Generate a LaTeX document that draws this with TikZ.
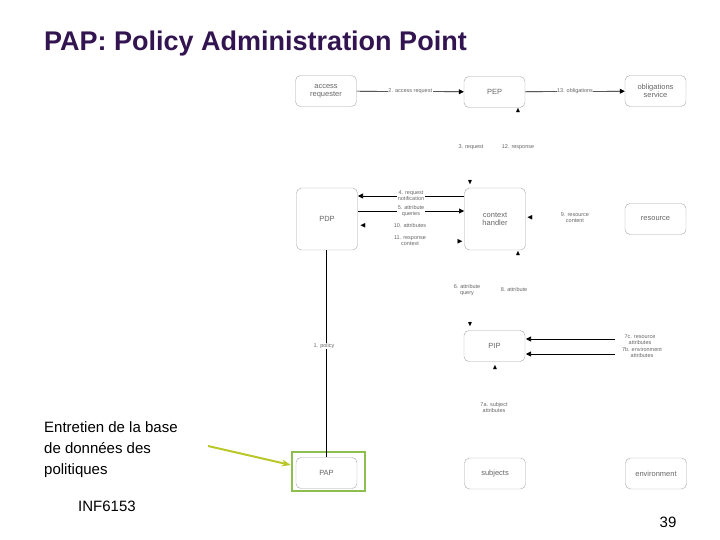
\documentclass[tikz,border=0pt]{standalone}
\usepackage{amssymb}
\usepackage{fontspec}
\setmainfont{Liberation Sans}
\usetikzlibrary{arrows.meta}
\begin{document}
\begin{tikzpicture}[x=1pt,y=-1pt,
 box/.style={draw=gray!70,rounded corners=5pt,minimum width=61pt,minimum height=31pt,font=\fontsize{7.5}{8}\selectfont,text=gray!80!black,align=center,fill=white},
 lb/.style={font=\fontsize{5.5}{6}\selectfont,text=gray!80!black,align=center,fill=white,inner sep=0.5pt},
 ar/.style={-{Triangle[length=5pt,width=5pt]},line width=0.6pt},
 tip/.style={inner sep=0,minimum size=0,font=\fontsize{7}{7}\selectfont}]
\useasboundingbox (0,0) rectangle (720,540);
\node[font=\fontsize{27}{30}\selectfont\bfseries,text={rgb,255:red,50;green,20;blue,80},anchor=west,inner sep=0] (title) at (44,44) {PAP: Policy Administration Point};
\node[box] (ar) at (326,91) {access\\requester};
\node[box] (pep) at (494.5,92) {PEP};
\node[box] (obl) at (655.5,91) {obligations\\service};
\node[box,minimum height=62pt] (pdp) at (327,219) {PDP};
\node[box,minimum height=62pt] (ch) at (495,219) {context\\handler};
\node[box] (res) at (655.5,219) {resource};
\node[box] (pip) at (494.5,346) {PIP};
\node[box] (pap) at (326.5,473) {PAP};
\node[box] (sub) at (495,473.5) {subjects};
\node[box] (env) at (656,473.5) {environment};
\node[draw={rgb,255:red,140;green,190;blue,80},line width=2.5pt,minimum width=73pt,minimum height=39pt] (grn) at (328.5,471.5) {};
\draw[ar] (ar) -- node[lb]{2. access request} (pep);
\draw[ar] (pep) -- node[lb]{13. obligations} (obl);
\coordinate (c4) at (464,196); \coordinate (p4) at (358,196);
\draw[ar] (c4) -- node[lb]{4. request\\notification} (p4);
\coordinate (p5) at (358,211); \coordinate (c5) at (464,211);
\draw[ar] (p5) -- node[lb]{5. attribute\\queries} (c5);
\coordinate (p1) at (326,250); \coordinate (a1) at (326,457);
\draw[line width=0.6pt] (p1) -- (a1);
\node[lb,anchor=west] (l1) at (313,346) {1. policy};
\coordinate (r7c) at (615,339); \coordinate (i7c) at (526,339);
\coordinate (r7b) at (615,354); \coordinate (i7b) at (526,354);
\draw[ar] (r7c) -- (i7c);
\draw[ar] (r7b) -- (i7b);
% arrow tips
\node[tip] (t1) at (518,111) {$\blacktriangle$};
\node[tip] (t2) at (470,183) {$\blacktriangledown$};
\node[tip] (t3) at (363,226) {$\blacktriangleleft$};
\node[tip] (t4) at (460,242) {$\blacktriangleright$};
\node[tip] (t5) at (530,218) {$\blacktriangleleft$};
\node[tip] (t6) at (518,254) {$\blacktriangle$};
\node[tip] (t7) at (470,325) {$\blacktriangledown$};
\node[tip] (t8) at (495,368) {$\blacktriangle$};
% labels
\node[lb] (l3) at (471,147) {3. request};
\node[lb] (l12) at (518,147) {12. response};
\node[lb] (l10) at (410,226) {10. attributes};
\node[lb] (l11) at (410,241) {11. response\\context};
\node[lb] (l9) at (575,218) {9. resource\\content};
\node[lb] (l6) at (467,290) {6. attribute\\query};
\node[lb] (l8) at (514,290) {8. attribute};
\node[lb] (l7c) at (640,340) {7c. resource\\attributes};
\node[lb] (l7b) at (642,353) {7b. environment\\attributes};
\node[lb] (l7a) at (494,408) {7a. subject\\attributes};
\node[font=\fontsize{15}{21}\selectfont,align=left,anchor=north west,inner sep=0] (ent) at (44,421) {Entretien de la base\\de données des\\politiques};
\coordinate (ae) at (208,446);
\draw[-{Stealth[length=9pt,width=7pt]},line width=2pt,draw={rgb,255:red,185;green,200;blue,40}] (ae) -- (grn.west |- 0,465);
\node[font=\fontsize{15}{17}\selectfont,anchor=west,inner sep=0] (inf) at (78,506) {INF6153};
\node[font=\fontsize{15}{17}\selectfont] (pg) at (668,522) {39};
\end{tikzpicture}
\end{document}
